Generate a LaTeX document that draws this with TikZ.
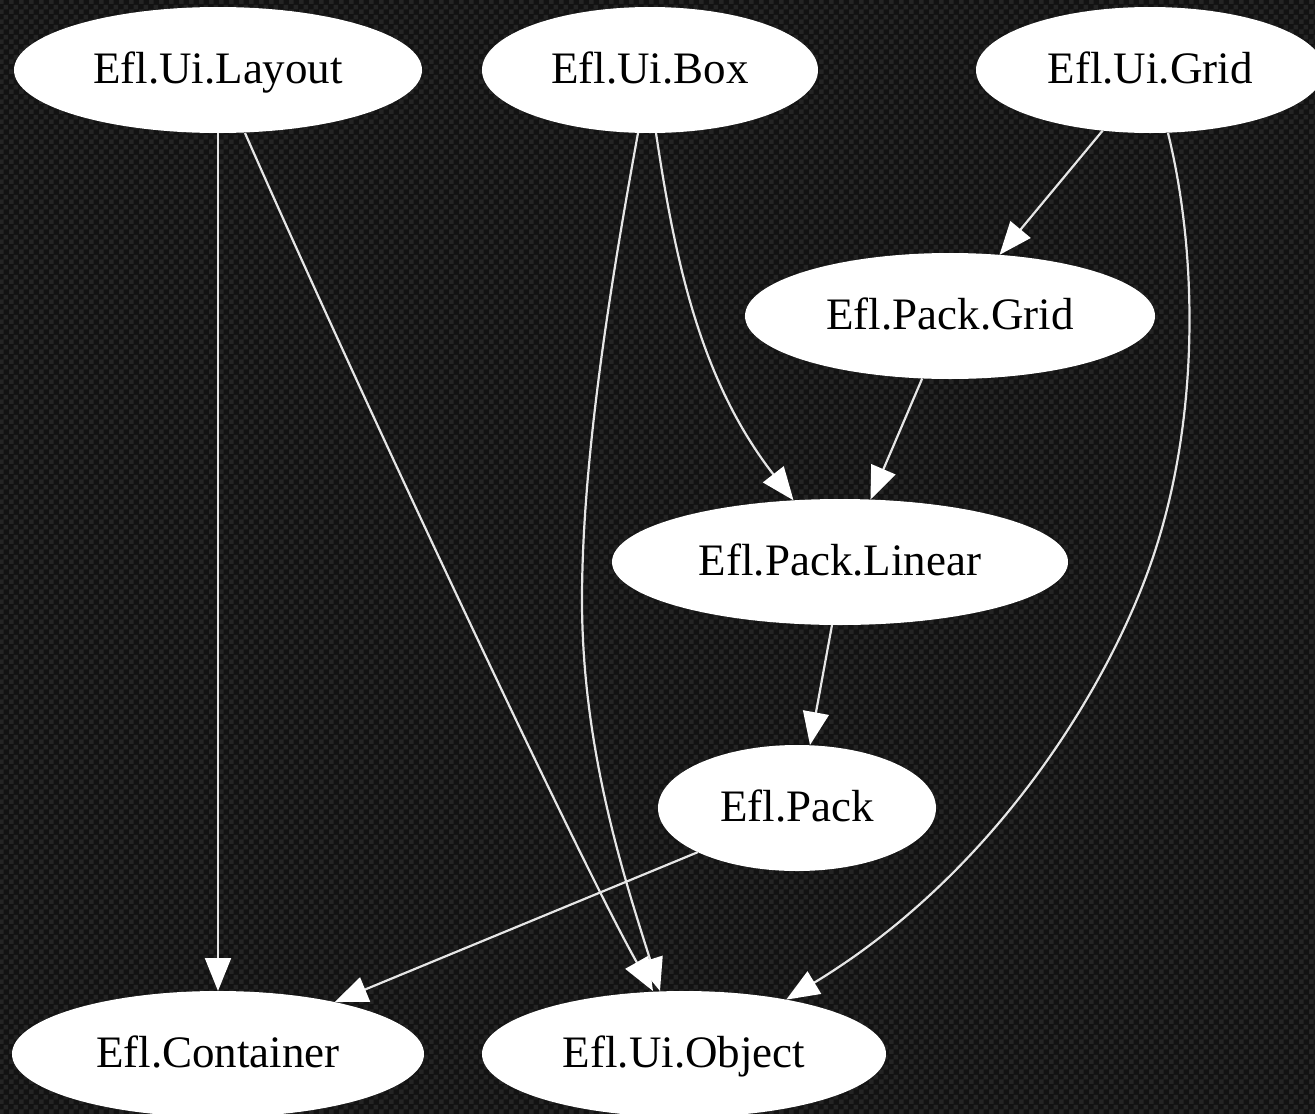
\documentclass[tikz,border=0pt]{standalone}
\usepackage{fontspec}
\setmainfont{Liberation Serif}[Ligatures=NoCommon]
\usetikzlibrary{shapes.geometric,arrows.meta,patterns.meta}
\definecolor{bgdark}{HTML}{121212}
\definecolor{bglight}{HTML}{242424}
\definecolor{edgecol}{HTML}{E6E6E6}
\tikzdeclarepattern{
  name=carbon,
  type=uncolored,
  bounding box={(0,0) and (10pt,10pt)},
  tile size={(10pt,10pt)},
  code={
    \pgfpathrectangle{\pgfpointorigin}{\pgfpoint{5pt}{5pt}}
    \pgfpathrectangle{\pgfpoint{5pt}{5pt}}{\pgfpoint{5pt}{5pt}}
    \pgfusepath{fill}
  }
}
\tikzset{
  cls/.style={ellipse, fill=white, inner sep=0pt, outer sep=0pt,
    minimum height=126pt, text=black, text height=32pt, text depth=6pt,
    font=\fontsize{45}{54}\selectfont},
  dep/.style={draw=edgecol, line width=2.2pt,
    -{Triangle[length=33pt,width=26pt,color=white]}}
}
\begin{document}
\begin{tikzpicture}[x=1pt,y=-1pt]
\useasboundingbox (0,0) rectangle (1315,1114);
\fill[bgdark] (0,0) rectangle (1315,1114);
\fill[pattern=carbon, pattern color=bglight] (0,0) rectangle (1315,1114);

\node[cls, minimum width=408pt] (lay)   at (218,70)   {Efl.Ui.Layout};
\node[cls, minimum width=336pt] (box)   at (650,70)   {Efl.Ui.Box};
\node[cls, minimum width=348pt] (grid)  at (1150,70)  {Efl.Ui.Grid};
\node[cls, minimum width=410pt] (pgrid) at (950,316)  {Efl.Pack.Grid};
\node[cls, minimum width=456pt] (lin)   at (840,562)  {Efl.Pack.Linear};
\node[cls, minimum width=278pt] (pack)  at (797,808)  {Efl.Pack};
\node[cls, minimum width=412pt] (cont)  at (218,1054) {Efl.Container};
\node[cls, minimum width=404pt] (obj)   at (684,1054) {Efl.Ui.Object};

\draw[dep] (lay.south) -- (cont.north);
\draw[dep] ([xshift=27pt]lay.south) .. controls (355,383) and (580,862) .. ([xshift=-31pt]obj.north);
\draw[dep] ([xshift=-12pt]box.south) .. controls (615,260) and (582,450) .. (582,600)
           .. controls (582,750) and (625,880) .. ([xshift=-24pt]obj.north);
\draw[dep] ([xshift=6pt]box.south) .. controls (675,260) and (700,380) .. (lin.127);
\draw[dep] (grid.-128) -- (pgrid.51);
\draw[dep] ([xshift=18pt]grid.south) .. controls (1198,255) and (1200,420) .. (1152,560)
           .. controls (1111,680) and (1000,870) .. (obj.28);
\draw[dep] (pgrid.-114) -- (lin.64);
\draw[dep] ([xshift=-8pt]lin.south) -- ([xshift=13pt]pack.north);
\draw[dep] (pack.204) -- (cont.24);
\end{tikzpicture}
\end{document}
